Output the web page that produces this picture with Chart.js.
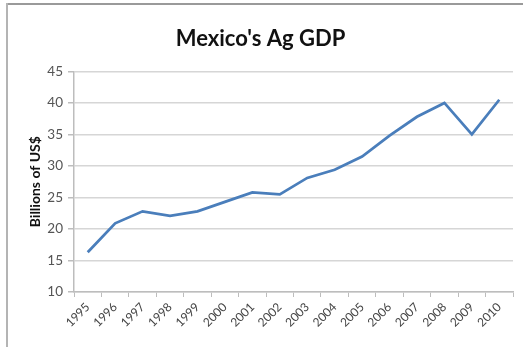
<!DOCTYPE html>
<html>
<head>
<meta charset="utf-8">
<script src="https://cdn.jsdelivr.net/npm/chart.js@4/dist/chart.umd.min.js"></script>
<style>
  html, body { margin: 0; padding: 0; background: #fff; }
  #wrap { width: 523px; height: 347px; position: relative; }
</style>
</head>
<body>
<div id="wrap"><canvas id="gdpChart"></canvas></div>
<script>
// Mexico agricultural GDP, billions of US$
const years = ['1995', '1996', '1997', '1998', '1999', '2000', '2001', '2002',
               '2003', '2004', '2005', '2006', '2007', '2008', '2009', '2010'];
const agGdp = [16.3, 20.9, 22.8, 22.1, 22.8, 24.3, 25.8, 25.5,
               28.1, 29.4, 31.5, 34.8, 37.8, 40.0, 35.0, 40.5];
const yTicks = [10, 15, 20, 25, 30, 35, 40, 45];

const FONT = 'Lato, "Open Sans", sans-serif';

// thin frame along the top and left edge of the chart object
const framePlugin = {
  id: 'frame',
  beforeDraw(chart) {
    const ctx = chart.ctx;
    ctx.save();
    ctx.fillStyle = '#fff';
    ctx.fillRect(0, 0, chart.width, chart.height);
    ctx.fillStyle = '#9a9a9a';
    ctx.fillRect(6, 3, chart.width - 6, 2);
    ctx.fillStyle = '#b4b4b4';
    ctx.fillRect(6, 3, 2, chart.height - 3);
    ctx.restore();
  }
};

new Chart(document.getElementById('gdpChart'), {
  type: 'line',
  data: {
    labels: years,
    datasets: [{
      data: agGdp,
      borderColor: '#4a7ebb',
      borderWidth: 2.75,
      pointRadius: 0,
      tension: 0,
      fill: false
    }]
  },
  options: {
    responsive: true,
    maintainAspectRatio: false,
    animation: false,
    devicePixelRatio: 1,
    layout: { padding: { left: 8, right: 10, top: 22, bottom: 0 } },
    plugins: {
      legend: { display: false },
      tooltip: { enabled: false },
      title: {
        display: true,
        text: "Mexico's Ag GDP",
        color: '#111',
        font: { family: FONT, size: 22, weight: 'bold' },
        padding: { top: 4, bottom: 19 }
      }
    },
    scales: {
      x: {
        offset: true,
        afterFit(axis) { axis.height = 55; },
        grid: {
          offset: true,
          drawOnChartArea: false,
          drawTicks: true,
          tickLength: 5,
          color: '#bdbdbd'
        },
        border: { color: '#bdbdbd', width: 1.5 },
        ticks: {
          color: '#444',
          font: { family: FONT, size: 12 },
          minRotation: 45,
          maxRotation: 45,
          autoSkip: false,
          padding: 3
        }
      },
      y: {
        min: 10,
        max: 45,
        afterFit(axis) { axis.width = 66; },
        afterBuildTicks(axis) {
          axis.ticks = yTicks.map(v => ({ value: v }));
        },
        grid: {
          color: '#d6d6d6',
          lineWidth: 1.5,
          drawTicks: true,
          tickLength: 6,
          tickColor: '#bdbdbd'
        },
        border: { color: '#bdbdbd', width: 1.5 },
        ticks: {
          color: '#555',
          font: { family: FONT, size: 13.5 },
          padding: 5
        },
        title: {
          display: true,
          text: 'Billions of US$',
          color: '#111',
          font: { family: FONT, size: 14, weight: 'bold' },
          padding: { top: 19, bottom: 4 }
        }
      }
    }
  },
  plugins: [framePlugin]
});
</script>
</body>
</html>
